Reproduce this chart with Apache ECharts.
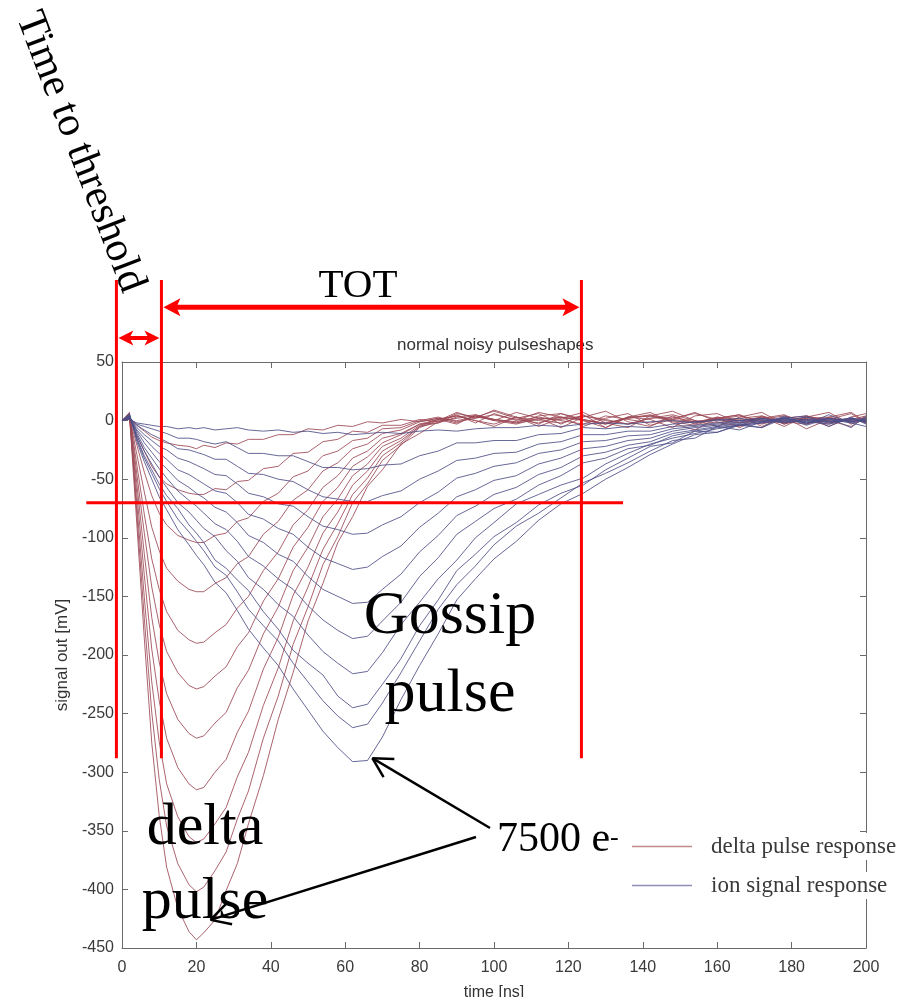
<!DOCTYPE html>
<html>
<head>
<meta charset="utf-8">
<script src="https://cdn.jsdelivr.net/npm/echarts@6/dist/echarts.min.js"></script>
<style>html,body{margin:0;padding:0;background:#fff;}#chart{width:909px;height:997px;}</style>
</head>
<body>
<div id="chart"></div>
<script>
// time axis samples [ns]
const T = [0,2,4,6,8,10,12,15,18,20, 22,25,28,31,34,38,42,46,50,54, 58,62,66,70,75,80,85,90,95,100, 106,112,118,124,130,136,142,148,154,160, 166,172,178,184,190,196,200];

// delta pulse responses [mV]
const delta1 = [0,5,-89,-186,-275,-337,-381,-416,-436,-443, -437,-426,-401,-378,-344,-303,-255,-215,-171,-139, -104,-82,-56,-42,-20,-11,-1,6,3,8, 2,6,-3,5,-6,3,7,-2,-8,2, 5,-5,3,-7,1,6,-2];
const delta2 = [0,7,-80,-169,-249,-306,-346,-378,-396,-402, -398,-384,-368,-340,-316,-271,-235,-191,-159,-123, -99,-70,-54,-34,-21,-6,0,7,2,9, 3,-5,2,7,-2,-6,4,8,0,-5, 3,7,-3,2,-5,3,6];
const delta3 = [0,3,-72,-151,-223,-274,-310,-338,-355,-360, -357,-344,-330,-304,-283,-243,-211,-171,-142,-110, -88,-63,-49,-30,-19,-5,1,-3,5,0, 7,2,-6,3,8,-1,-5,4,-3,3, -6,2,5,-3,3,7,-1];
const delta4 = [0,6,-63,-132,-195,-239,-271,-296,-310,-315, -313,-300,-289,-266,-248,-212,-185,-149,-125,-96, -78,-55,-43,-26,-17,-5,-2,5,-2,6, 0,7,3,-5,2,6,-4,1,7,-1, -5,4,-3,3,7,-3,2];
const delta5 = [0,3,-54,-114,-168,-206,-233,-255,-267,-271, -269,-258,-249,-228,-213,-182,-159,-128,-108,-82, -67,-47,-37,-22,-15,-4,1,4,0,-5, 3,-3,6,0,-6,3,1,-6,4,6, -2,3,-5,4,0,-5,3];
const delta6 = [0,5,-46,-96,-142,-174,-197,-215,-226,-229, -227,-218,-210,-193,-181,-154,-135,-108,-91,-69, -57,-39,-31,-19,-12,-3,-2,3,5,1, -2,4,6,1,-3,3,4,-1,-4,2, 5,-2,0,3,-2,1,4];
const delta7 = [0,4,-38,-80,-118,-144,-163,-179,-187,-190, -189,-181,-174,-160,-150,-128,-112,-89,-76,-57, -47,-32,-26,-15,-11,-3,1,4,0,-3, 3,0,-2,4,1,-3,2,5,0,-2, 2,4,-1,-3,2,0,3];
const delta8 = [0,3,-29,-61,-91,-111,-126,-137,-144,-146, -146,-139,-134,-122,-116,-97,-86,-68,-59,-43, -36,-24,-20,-11,-8,-1,2,-2,4,1, -1,3,0,-3,4,1,-2,2,6,1, -2,1,4,0,-3,2,-1];
const delta9 = [0,2,-21,-44,-64,-79,-89,-98,-102,-104, -104,-98,-96,-86,-83,-69,-62,-48,-43,-30, -26,-17,-15,-7,-6,0,3,-1,2,5, 1,-2,3,1,-3,2,5,0,-2,3, 1,-3,2,4,-1,2,-2];
const delta10 = [0,2,-13,-26,-39,-48,-54,-59,-62,-63, -63,-58,-59,-52,-51,-41,-39,-28,-27,-18, -16,-9,-10,-4,-4,1,-1,2,4,0, -3,2,1,4,0,-3,2,3,-1,1, 4,0,-2,2,3,-1,1];
const delta11 = [0,1,-4,-9,-14,-17,-19,-21,-22,-24, -21,-23,-19,-20,-16,-16,-12,-12,-7,-8, -4,-5,-1,-2,1,-1,2,0,3,1, -2,1,3,0,-2,2,4,1,-1,2, 0,3,-2,1,2,-1,0];

// ion signal responses [mV]
const ion1 = [0,6,-18,-35,-50,-65,-76,-93,-106,-115, -123,-138,-147,-162,-178,-194,-209,-229,-247,-265, -279,-291,-290,-270,-238,-209,-182,-153,-135,-118, -103,-85,-71,-62,-50,-40,-29,-20,-12,-10, -4,-6,2,4,-5,3,-3];
const ion2 = [0,4,-16,-32,-45,-58,-69,-84,-95,-103, -111,-125,-132,-146,-161,-175,-188,-207,-223,-239, -252,-262,-259,-241,-215,-188,-161,-140,-124,-106, -90,-79,-66,-53,-45,-36,-26,-17,-15,-5, -8,-1,3,-4,2,-6,4];
const ion3 = [0,5,-15,-30,-42,-54,-64,-75,-89,-96, -104,-119,-126,-136,-145,-163,-178,-196,-207,-217, -235,-245,-242,-225,-203,-175,-153,-128,-114,-99, -87,-72,-62,-55,-42,-32,-22,-19,-9,-10, -3,-6,4,-3,5,-2,-5];
const ion4 = [0,3,-13,-26,-37,-48,-57,-70,-78,-85, -92,-99,-111,-120,-134,-144,-157,-167,-183,-197, -207,-216,-214,-198,-174,-155,-135,-119,-100,-87, -71,-63,-55,-49,-37,-28,-20,-15,-11,-7, -4,-2,0,3,-1,2,-2];
const ion5 = [0,4,-11,-23,-32,-41,-49,-60,-68,-73, -79,-88,-93,-103,-116,-124,-135,-144,-158,-170, -179,-186,-184,-171,-155,-133,-117,-97,-86,-75, -67,-55,-47,-36,-32,-24,-21,-13,-9,-6, -4,-2,1,-2,2,-1,1];
const ion6 = [0,2,-9,-19,-27,-35,-41,-51,-57,-62, -66,-74,-78,-87,-98,-104,-114,-120,-133,-144, -150,-156,-155,-144,-131,-112,-98,-81,-73,-63, -57,-46,-40,-30,-27,-21,-18,-11,-8,-5, -3,-1,2,-1,-3,1,2];
const ion7 = [0,3,-8,-15,-22,-28,-33,-42,-46,-50, -54,-60,-62,-70,-80,-84,-92,-97,-108,-117, -122,-127,-125,-116,-107,-91,-79,-65,-59,-51, -47,-37,-32,-24,-22,-17,-15,-9,-6,-4, -2,0,2,-1,1,-2,0];
const ion8 = [0,2,-6,-12,-17,-22,-25,-32,-35,-38, -41,-46,-47,-54,-62,-65,-71,-73,-82,-90, -93,-97,-96,-89,-82,-70,-61,-49,-45,-39, -36,-28,-25,-18,-17,-13,-12,-7,-5,-3, -1,1,-2,0,2,-1,1];
const ion9 = [0,3,-4,-8,-12,-15,-18,-24,-25,-27, -29,-33,-33,-39,-45,-46,-50,-52,-59,-65, -67,-69,-69,-64,-60,-50,-43,-34,-32,-28, -27,-20,-18,-12,-12,-9,-9,-5,-4,-2, 0,2,-1,1,-2,1,0];
const ion10 = [0,2,-3,-5,-7,-9,-11,-15,-15,-16, -18,-20,-18,-23,-28,-28,-30,-30,-35,-40, -40,-42,-41,-38,-37,-30,-26,-19,-19,-17, -17,-12,-11,-6,-7,-5,-6,-3,-1,0, 2,-1,1,-2,0,2,-1];
const ion11 = [0,1,-2,-3,-4,-5,-5,-7,-6,-7, -6,-8,-7,-6,-8,-9,-8,-10,-9,-11, -10,-12,-11,-10,-11,-9,-8,-9,-7,-6, -6,-4,-5,-3,-2,-3,-1,0,-2,1, 0,2,-1,1,-1,0,1];

const deltaCurves = [delta1,delta2,delta3,delta4,delta5,delta6,delta7,delta8,delta9,delta10,delta11];
const ionCurves = [ion1,ion2,ion3,ion4,ion5,ion6,ion7,ion8,ion9,ion10,ion11];

// axis ticks
const xTicks = {min: 0, max: 200, interval: 20};
const yTicks = {min: -450, max: 50, interval: 50};

// annotation anchors (data units)
const markerTimes = [-1.5, 10.6, 123.5];     // time-to-threshold start, TOT start, TOT end
const markerRange = [120, -288];             // vertical extent of marker lines [mV]
const thresholdLevel = -70;                  // threshold [mV]
const thresholdRange = [-9.6, 134.7];        // horizontal extent [ns]
const totLevel = 96.7;
const ttLevel = 70.5;
const deltaTip = [23.8, -426];
const ionTip = [67.3, -288];

const DELTA_NAME = 'delta pulse response';
const ION_NAME = 'ion signal response';
const deltaColor = 'rgb(155,72,85)';
const ionColor = 'rgb(78,78,135)';

function pairs(vals){ return T.map((t,i)=>[t, vals[i]]); }

const series = [];
deltaCurves.forEach(c => series.push({type:'line', name: DELTA_NAME, data: pairs(c), showSymbol:false, symbol:'none', color: deltaColor, lineStyle:{width:1, color: deltaColor, opacity:0.85}, silent:true, xAxisIndex:0, yAxisIndex:0}));
ionCurves.forEach(c => series.push({type:'line', name: ION_NAME, data: pairs(c), showSymbol:false, symbol:'none', color: ionColor, lineStyle:{width:1, color: ionColor, opacity:0.85}, silent:true, xAxisIndex:0, yAxisIndex:0}));

const axisGray = '#6a6a6a';
const labelFont = {fontFamily:'Liberation Sans', fontSize:16, color:'#3a3a3a'};
const axisLineCfg = {show:true, onZero:false, lineStyle:{color:axisGray}};
const tickCfg = {show:true, inside:true, length:6, lineStyle:{color:axisGray}};

const chart = echarts.init(document.getElementById('chart'), null, {renderer:'canvas'});
chart.setOption({
  animation:false,
  backgroundColor:'#fff',
  title:{text:'normal noisy pulseshapes', left:392, top:332, textStyle:{fontFamily:'Liberation Sans', fontSize:17, fontWeight:'normal', color:'#333'}},
  grid:{left:122, right:43, top:362, bottom:49, containLabel:false, outerBoundsMode:'none'},
  legend:{left:632, top:833, padding:0, orient:'vertical', icon:'rect', itemWidth:60, itemHeight:1.5, itemGap:12,
    data:[{name:DELTA_NAME, itemStyle:{color:'#c08a8a'}},{name:ION_NAME, itemStyle:{color:'#8f8fb5'}}],
    textStyle:{fontFamily:'Liberation Serif', fontSize:23, color:'#3a3a3a', backgroundColor:'#fff', padding:[2,2,2,14]}},
  xAxis:[
    {type:'value', min:xTicks.min, max:xTicks.max, interval:xTicks.interval, position:'bottom',
     name:'time [ns]', nameLocation:'middle', nameGap:37, nameTextStyle:{fontFamily:'Liberation Sans', fontSize:16, color:'#333'},
     axisLine:axisLineCfg, axisTick:tickCfg,
     axisLabel:Object.assign({margin:12}, labelFont), splitLine:{show:false}},
    {type:'value', min:xTicks.min, max:xTicks.max, interval:xTicks.interval, position:'top',
     axisLine:axisLineCfg, axisTick:tickCfg,
     axisLabel:{show:false}, splitLine:{show:false}}
  ],
  yAxis:[
    {type:'value', min:yTicks.min, max:yTicks.max, interval:yTicks.interval, position:'left',
     name:'signal out [mV]', nameLocation:'middle', nameGap:45, nameRotate:90, nameTextStyle:{fontFamily:'Liberation Sans', fontSize:17, color:'#333'},
     axisLine:axisLineCfg, axisTick:tickCfg,
     axisLabel:Object.assign({margin:8}, labelFont), splitLine:{show:false}},
    {type:'value', min:yTicks.min, max:yTicks.max, interval:yTicks.interval, position:'right',
     axisLine:axisLineCfg, axisTick:tickCfg,
     axisLabel:{show:false}, splitLine:{show:false}}
  ],
  series: series
});

// ---- annotations ----
function px(t, v){ return chart.convertToPixel({xAxisIndex:0, yAxisIndex:0}, [t, v]); }
const RED = '#ff0000';
const els = [];
function line(x1,y1,x2,y2,w,color){ els.push({type:'line', z:100, shape:{x1,y1,x2,y2}, style:{stroke:color, lineWidth:w}}); }
function head(tipX, y, dir, len, half){
  els.push({type:'polygon', z:100, shape:{points:[[tipX,y],[tipX+dir*len,y-half],[tipX+dir*(len-4),y],[tipX+dir*len,y+half]]}, style:{fill:RED}});
}
function openArrow(sx, sy, tx, ty){
  line(sx, sy, tx, ty, 2.5, '#000');
  const a = Math.atan2(sy-ty, sx-tx);
  const L = 22, s = 0.5;
  line(tx, ty, tx + L*Math.cos(a+s), ty + L*Math.sin(a+s), 2.5, '#000');
  line(tx, ty, tx + L*Math.cos(a-s), ty + L*Math.sin(a-s), 2.5, '#000');
}

markerTimes.forEach(t => {
  const p1 = px(t, markerRange[0]), p2 = px(t, markerRange[1]);
  line(p1[0], p1[1], p2[0], p2[1], 3, RED);
});
{
  const a = px(thresholdRange[0], thresholdLevel), b = px(thresholdRange[1], thresholdLevel);
  line(a[0], a[1], b[0], b[1], 3, RED);
}
{
  const a = px(markerTimes[1], totLevel), b = px(markerTimes[2], totLevel);
  const ax = a[0] + 2, bx = b[0] - 2;
  line(ax + 12, a[1], bx - 12, b[1], 5, RED);
  head(ax, a[1], 1, 17, 9);
  head(bx, b[1], -1, 17, 9);
}
{
  const a = px(markerTimes[0], ttLevel), b = px(markerTimes[1], ttLevel);
  const ax = a[0] + 2, bx = b[0] - 2;
  line(ax + 10, a[1], bx - 10, b[1], 4, RED);
  head(ax, a[1], 1, 15, 7.5);
  head(bx, b[1], -1, 15, 7.5);
}
{
  const it = px(ionTip[0], ionTip[1]);
  const dt = px(deltaTip[0], deltaTip[1]);
  openArrow(490, 828, it[0], it[1]);
  openArrow(476, 837, dt[0], dt[1]);
}

const serif = '"Liberation Serif", "Times New Roman", serif';
function txt(text, x, y, size, opts){
  els.push(Object.assign({type:'text', z:110, x:x, y:y, style:{text:text, font: size + 'px ' + serif, fill:'#000', textAlign:'center', textVerticalAlign:'middle'}}, opts || {}));
}
txt('Time to threshold', 80, 152, 42, {rotation: -69*Math.PI/180});
txt('TOT', 358, 286, 41);
txt('Gossip', 450, 617, 62);
txt('pulse', 450, 695, 62);
txt('delta', 205, 828, 60);
txt('pulse', 205, 902, 60);
els.push({type:'text', z:110, x:497, y:861, style:{text:'7500 e', font:'42px ' + serif, fill:'#000', textAlign:'left', textVerticalAlign:'bottom'}});
els.push({type:'text', z:110, x:610, y:851, style:{text:'-', font:'26px ' + serif, fill:'#000', textAlign:'left', textVerticalAlign:'bottom'}});

chart.setOption({graphic:{elements: els}});
</script>
</body>
</html>
